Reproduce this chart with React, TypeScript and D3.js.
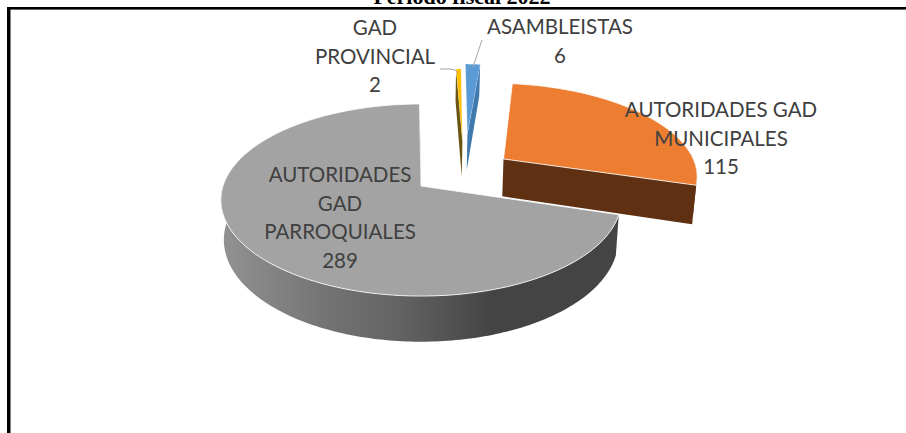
import React from 'react';
import * as d3 from 'd3';

const categories = ['AUTORIDADES GAD MUNICIPALES', 'AUTORIDADES GAD PARROQUIALES', 'GAD PROVINCIAL', 'ASAMBLEISTAS'];
const values = [115, 289, 2, 6];
const topColors = ['#ed7d31', '#a3a3a3', '#ffc000', '#5b9bd5'];
const wallColors = ['#5f3112', 'url(#grayWall)', '#6b5410', '#3f79ae'];
const explodeU = [0.435, 0, 0.225, 0.255];
const explodeV = [-0.3, 0, -0.52, -0.6];
const labelLines = [
  ['AUTORIDADES GAD', 'MUNICIPALES', '115'],
  ['AUTORIDADES', 'GAD', 'PARROQUIALES', '289'],
  ['GAD', 'PROVINCIAL', '2'],
  ['ASAMBLEISTAS', '6'],
];
const labelX = [721, 340, 375, 560];
const labelY = [117, 182, 35, 34];
const lineStep = 28.5;
const titleText = 'Período fiscal 2022';

const W = 906, H = 433;
const cx = 421, cy = 186, R = 198, S = 94, k = 0.146, depth = 39, shrink = 0.985;

type P = [number, number];
const project = (u: number, v: number, z: number): P => {
  const w = 1 - k * v;
  const sc = z > 0 ? shrink : 1;
  return [cx + (R * u * sc) / w, cy + (S * v) / w + (z * depth) / w];
};

const pie = d3.pie<number>().sort(null).startAngle((6.5 * Math.PI) / 180).endAngle((366.5 * Math.PI) / 180);
const arcs = pie(values);
const line = d3.line<P>();

const rimPoint = (a: number, i: number, z: number): P =>
  project(explodeU[i] + Math.sin(a), explodeV[i] - Math.cos(a), z);

const rim = (a0: number, a1: number, i: number, z: number): P[] =>
  d3.range(0, 121).map((j) => rimPoint(a0 + ((a1 - a0) * j) / 120, i, z));

// outer wall only exists on the part of the rim that faces the viewer
const frontAngles = (a0: number, a1: number): number[] =>
  d3.range(0, 241).map((j) => a0 + ((a1 - a0) * j) / 240).filter((a) => -Math.cos(a) >= -0.08);

export default function App() {
  const order = [1, 0, 2, 3];
  return (
    <svg width={W} height={H} viewBox={`0 0 ${W} ${H}`} style={{ position: 'fixed', left: 0, top: 0, display: 'block', background: '#fff' }}>
      <defs>
        <linearGradient id="grayWall" gradientUnits="userSpaceOnUse" x1={222} x2={620} y1={0} y2={0}>
          <stop offset="0" stopColor="#929292" />
          <stop offset="0.25" stopColor="#757575" />
          <stop offset="0.45" stopColor="#626262" />
          <stop offset="0.68" stopColor="#444444" />
          <stop offset="1" stopColor="#444444" />
        </linearGradient>
      </defs>
      <text x={462} y={4} textAnchor="middle" fontFamily="'Liberation Serif', serif" fontWeight="bold" fontSize={22} fill="#000">{titleText}</text>
      <rect x={7} y={9} width={899} height={1} fill="#c8c8c8" />
      <rect x={7} y={7} width={899} height={2.5} fill="#000" />
      <rect x={7} y={7} width={3.5} height={426} fill="#000" />

      {order.map((i) => {
        const d = arcs[i];
        const apexTop = project(explodeU[i], explodeV[i], 0);
        const apexBot = project(explodeU[i], explodeV[i], 1);
        const topRim = rim(d.startAngle, d.endAngle, i, 0);
        const sideAngle = categories[i] === 'GAD PROVINCIAL' ? d.startAngle : d.endAngle;
        const radial: P[] = [apexTop, rimPoint(sideAngle, i, 0), rimPoint(sideAngle, i, 1), apexBot];
        const front = frontAngles(d.startAngle, d.endAngle);
        const outer: P[] = [...front.map((a) => rimPoint(a, i, 0)), ...front.slice().reverse().map((a) => rimPoint(a, i, 1))];
        const face: P[] = [apexTop, ...topRim];
        const sliver = d.endAngle - d.startAngle < 0.2;
        return (
          <g key={categories[i]}>
            {outer.length > 2 && <path d={line(outer)! + 'Z'} fill={wallColors[i]} />}
            <path d={line(radial)! + 'Z'} fill={wallColors[i]} />
            <path d={line(face)! + 'Z'} fill={topColors[i]} stroke="#fff" strokeWidth={sliver ? 0.2 : 0.8} strokeLinejoin="round" />
          </g>
        );
      })}

      <path d="M482,40L473,67" fill="none" stroke="#a6a6a6" strokeWidth={1} />
      <path d="M440,69L450,69Q456,69 458,73" fill="none" stroke="#a6a6a6" strokeWidth={1} />

      {labelLines.map((lines, i) =>
        lines.map((t, j) => (
          <text key={i + '-' + j} x={labelX[i]} y={labelY[i] + j * lineStep} textAnchor="middle" fontFamily="Lato, 'Open Sans', sans-serif" fontSize={20.5} fill="#404040">{t}</text>
        ))
      )}
    </svg>
  );
}
